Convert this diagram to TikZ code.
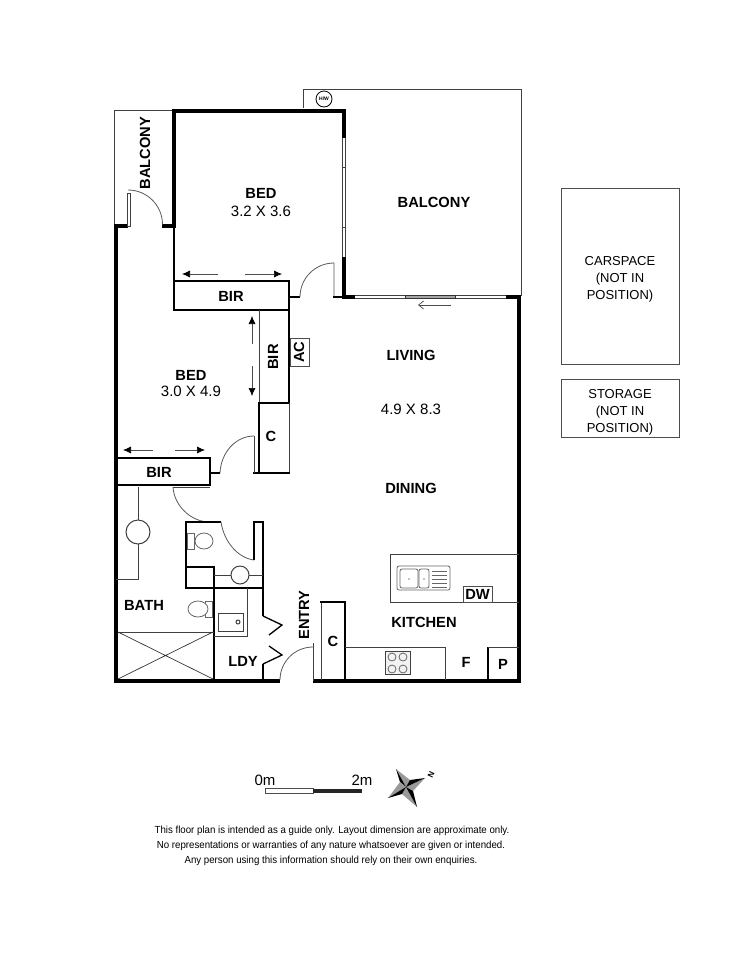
\documentclass[tikz,border=0pt]{standalone}
\usepackage{fontspec}
\setmainfont{Liberation Sans}
\usetikzlibrary{arrows.meta}
\tikzset{
 wall/.style={line width=4.5pt,line cap=butt,black},
 mid/.style={line width=2.4pt,black},
 thin/.style={line width=1pt,black!75},
 hair/.style={line width=.8pt,black!60},
 door/.style={line width=.8pt,black!65},
 lab/.style={font=\fontsize{14.7}{14.7}\selectfont\bfseries,inner sep=0pt},
 dim/.style={font=\fontsize{15}{15}\selectfont,inner sep=0pt},
 note/.style={font=\fontsize{13}{17}\selectfont,align=center,inner sep=0pt},
 foot/.style={font=\fontsize{10.3}{10.3}\selectfont,inner sep=0pt},
 slide/.style={line width=.7pt,black!70,-{Latex[length=8pt,width=7pt,black]}},
 open/.style={line width=.7pt,black!70,-{Straight Barb[length=5pt,width=8pt]}},
}
\begin{document}
\begin{tikzpicture}[x=1pt,y=-1pt]
\useasboundingbox (0,0) rectangle (750,970);
% balconies
\draw[thin] (172,110) -- (114,110) -- (114,226);
\draw[thin] (303,108) -- (303,89) -- (521,89) -- (521,296);
\node[circle,draw=black,line width=.8pt,minimum size=16pt,inner sep=0pt,font=\fontsize{5}{5}\selectfont\bfseries] (hw) at (324,99) {H/W};
% main upper walls
\draw[wall] (172,111) -- (346,111);
\draw[wall] (174,109) -- (174,228);
\draw[wall] (344,109) -- (344,138);
\draw[wall] (344,257) -- (344,299);
\draw[wall] (342,297) -- (355,297);
\draw[wall] (506,297) -- (521,297);
\draw[wall] (116,224) -- (116,683);
\draw[wall] (114,226) -- (128,226);
\draw[wall] (162,226) -- (175,226);
\draw[wall] (519,295) -- (519,683);
\draw[wall] (114,681) -- (280,681);
\draw[wall] (313,681) -- (521,681);
% bedroom window
\draw[thin] (342.5,138) -- (342.5,257) (345.5,138) -- (345.5,257);
\draw[thin] (342.5,167) -- (345.5,167) (342.5,227) -- (345.5,227);
% living sliding door
\draw[thin] (355,295.5) -- (506,295.5) (355,298.5) -- (506,298.5);
\draw[line width=1pt,black!80,fill=black!35] (405,295.5) rectangle (455,298.5);
% balcony door
\draw[thin,fill=white] (127,193) rectangle (130,226);
\draw[door] (128,190) arc[start angle=-90,end angle=0,radius=34.5];
% BIR upper
\draw[mid] (174,228) -- (174,310);
\draw[line width=1.3pt] (174,281) -- (289,281);
\draw[mid] (173,310) -- (290,310);
\draw[mid] (289,280) -- (289,404);
\draw[mid] (289,297) -- (300,297);
\draw[door] (300,297) arc[start angle=180,end angle=270,radius=34] -- (334,297);
\draw[mid] (333,297) -- (343,297);
% wardrobes
\draw[thin] (259,310) -- (259,403);
\draw[mid] (258,403) -- (290,403);
\draw[mid] (259,403) -- (259,473);
\draw[thin] (289,403) -- (289,473);
\draw[mid] (253,473) -- (290,473);
\draw[thin] (254,473) -- (254,436);
\draw[door] (254,436) .. controls (236,436) and (221,452) .. (220,473);
\draw[mid] (210,473) -- (220,473);
\draw[mid] (116,458) -- (210,458);
\draw[mid] (210,457) -- (210,486);
\draw[mid] (116,485) -- (211,485);
\draw[thin] (173,487) -- (210,487);
\draw[door] (173,487) .. controls (174,505) and (190,521) .. (208,522);
% AC
\node[draw=black!70,line width=.8pt,minimum width=19pt,minimum height=28pt,inner sep=0pt] (acbox) at (299.5,352) {};
% arrows
\draw[slide] (218,274) -- (182,274);
\draw[slide] (245,274) -- (282,274);
\draw[slide] (252,344) -- (252,316);
\draw[slide] (252,366) -- (252,396);
\draw[slide] (153,450) -- (123,450);
\draw[slide] (175,450) -- (205,450);
\draw[open] (451,305) -- (418,305);
% bathroom
\draw[thin] (138,487) -- (138,579) -- (116,579);
\draw[thin,fill=white] (138,532) circle[radius=12];
\draw[mid] (186,589) -- (186,522) -- (221,522);
\draw[door] (221,522) .. controls (224,542) and (238,558) .. (254,560);
\draw[mid] (254,560) -- (254,522);
\draw[mid] (253,522) -- (264,522);
\draw[mid] (263,521) -- (263,616);
\draw[mid] (185,588) -- (264,588);
\draw[mid] (185,567) -- (215,567);
\draw[mid] (214,566) -- (214,681);
\draw[thin] (214,575) -- (263,575);
\draw[thin,fill=white] (240,575) circle[radius=9];
\draw[hair] (187,533) rectangle (194,549);
\draw[hair,fill=white] (204,541) ellipse[x radius=9,y radius=8];
\draw[hair] (205,601) rectangle (212,617);
\draw[hair,fill=white] (198,609) ellipse[x radius=10,y radius=8];
% shower
\draw[thin] (118,632) -- (214,632);
\draw[line width=.7pt,black!80] (118,632) -- (213,679) (118,679) -- (213,632);
% laundry
\draw[thin] (247,588) -- (247,636) -- (214,636);
\draw[thin] (218,613) rectangle (243,631);
\draw[thin] (238,622) circle[radius=2];
\draw[line width=1.3pt] (263,616) -- (282,625) -- (269,635);
\draw[line width=1.3pt] (269,646) -- (282,655) -- (263,664);
\draw[mid] (263,664) -- (263,681);
% entry door
\draw[door] (280,680) arc[start angle=180,end angle=270,radius=33];
\draw[thin] (313,643) -- (313,681);
% kitchen cupboard
\draw[thin] (321,680) -- (321,602);
\draw[mid] (320,602) -- (346,602);
\draw[mid] (345,601) -- (345,680);
% bench
\draw[thin] (345,647) -- (445,647) -- (445,680);
\draw[thin,fill=black!5] (385,651) rectangle (410,674);
\foreach \px/\py in {392/657,403/657,392/669,403/669}
  \draw[hair] (\px,\py) circle[radius=4];
\draw[mid] (488,680) -- (488,647);
\draw[thin] (488,647) -- (519,647);
% island
\draw[thin] (519,554) -- (390,554) -- (390,602) -- (519,602);
\draw[hair,rounded corners=2pt] (397,566) rectangle (450,590);
\draw[hair,rounded corners=2pt] (400,569) rectangle (418,588);
\draw[hair,rounded corners=2pt] (419,569) rectangle (429,588);
\fill[black] (409,579) circle[radius=.7] (424,579) circle[radius=.7];
\foreach \py in {571,575,579,583,587} \draw[hair] (432,\py) -- (447,\py);
\node[draw=black!70,line width=.8pt,minimum width=29pt,minimum height=16pt,inner sep=0pt] (dwbox) at (477.5,594) {};
% labels
\node[lab] (t1) at (261,193) {BED};
\node[dim] (t2) at (261,211) {3.2 X 3.6};
\node[lab,rotate=90] (t3) at (145,153) {BALCONY};
\node[lab] (t4) at (434,202) {BALCONY};
\node[lab] (t5) at (231,296) {BIR};
\node[lab] (t6) at (191,375) {BED};
\node[dim] (t7) at (191,391) {3.0 X 4.9};
\node[lab,rotate=90] (t8) at (273,357) {BIR};
\node[lab,rotate=90] (t9) at (299,352) {AC};
\node[lab] (t10) at (271,436) {C};
\node[lab] (t11) at (159,472) {BIR};
\node[lab] (t12) at (411,355) {LIVING};
\node[dim] (t13) at (411,409) {4.9 X 8.3};
\node[lab] (t14) at (411,488) {DINING};
\node[lab] (t15) at (144,605) {BATH};
\node[lab] (t16) at (243,661) {LDY};
\node[lab,rotate=90] (t17) at (304,615) {ENTRY};
\node[lab] (t18) at (333,641) {C};
\node[lab] (t19) at (424,622) {KITCHEN};
\node[lab] (t20) at (466,662) {F};
\node[lab] (t21) at (503,664) {P};
\node[lab] (t22) at (477.5,594) {DW};
% carspace and storage
\node[draw=black!70,line width=.8pt,minimum width=118pt,minimum height=176pt,inner sep=0pt] (car) at (620,276) {};
\node[note] (cart) at (620,279) {CARSPACE\\(NOT IN\\POSITION)};
\node[draw=black!70,line width=.8pt,minimum width=118pt,minimum height=58pt,inner sep=0pt] (sto) at (620,408) {};
\node[note] (stot) at (620,412) {STORAGE\\(NOT IN\\POSITION)};
% scale
\node[dim] (s0) at (265,780) {0m};
\node[dim] (s2) at (362,780) {2m};
\draw[line width=.7pt,black!70,fill=white] (265,788.5) rectangle (313,793);
\fill[black!85] (313,788.5) rectangle (362,793);
% compass
\fill[black!40] (396,769) -- (406,787) -- (410,780) -- cycle;
\fill[black] (396,769) -- (406,787) -- (400,782) -- cycle;
\fill[black!40] (425,778) -- (406,787) -- (413,791) -- cycle;
\fill[black] (425,778) -- (406,787) -- (410,780) -- cycle;
\fill[black!40] (417,807) -- (406,787) -- (402,794) -- cycle;
\fill[black] (417,807) -- (406,787) -- (413,791) -- cycle;
\fill[black!40] (388,798) -- (406,787) -- (400,782) -- cycle;
\fill[black] (388,798) -- (406,787) -- (402,794) -- cycle;
\node[font=\fontsize{8}{8}\selectfont\bfseries,inner sep=0pt,rotate=65] (north) at (431,775) {N};
% footer
\node[foot] (f1) at (332,831) {\scalebox{.94}[1]{This floor plan is intended as a guide only. Layout dimension are approximate only.}};
\node[foot] (f2) at (331,846) {\scalebox{.94}[1]{No representations or warranties of any nature whatsoever are given or intended.}};
\node[foot] (f3) at (331,861) {\scalebox{.94}[1]{Any person using this information should rely on their own enquiries.}};
\end{tikzpicture}
\end{document}
